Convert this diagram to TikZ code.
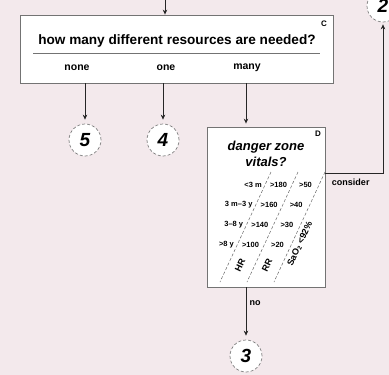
\documentclass[tikz,border=0pt]{standalone}
\usepackage{fontspec}
\setmainfont{Liberation Sans}
\usetikzlibrary{arrows.meta}
\definecolor{esipink}{RGB}{243,233,236}

\begin{document}
\begin{tikzpicture}[
    x=1pt,
    y=-1pt,
    >={Stealth[length=5pt,width=4.5pt]},
    box/.style={
        draw=black!55,
        line width=0.8pt,
        fill=white,
        inner sep=0pt
    },
    level/.style={
        circle,
        draw=black!50,
        densely dashed,
        line width=0.7pt,
        fill=white,
        minimum size=32pt,
        inner sep=0pt,
        font=\fontsize{19}{19}\selectfont\bfseries\itshape
    },
    arr/.style={
        ->,
        line width=0.7pt,
        draw=black!85
    },
    answer/.style={
        font=\fontsize{10.5}{12}\selectfont\bfseries
    },
    tab/.style={
        font=\fontsize{7.5}{8}\selectfont\bfseries,
        inner sep=1pt
    },
    colhead/.style={
        rotate=65,
        inner sep=1pt,
        font=\fontsize{9}{9}\selectfont\bfseries
    },
    sep/.style={
        densely dashed,
        draw=black!60,
        line width=0.5pt
    }
]

    \fill[esipink] (0,0) rectangle (389,375);
    \useasboundingbox (0,0) rectangle (389,375);

    \node[
        box,
        minimum width=313pt,
        minimum height=68pt
    ] (boxC) at (176.5,49) {};

    \node[
        font=\fontsize{13.6}{15}\selectfont\bfseries
    ] (question) at (177,41)
        {how many different resources are needed?};

    \draw[black!55, line width=0.8pt] (33,53) -- (320,53);

    \node[font=\fontsize{8}{8}\selectfont\bfseries] (labelC) at (324,24) {C};

    \node[answer] (none) at (77,68) {none};
    \node[answer] (one) at (166,68) {one};
    \node[answer] (many) at (247,68) {many};

    \node[level] (five) at (85,140) {5};
    \node[level] (four) at (163,140) {4};
    \node[level] (three) at (246,356) {3};
    \node[level] (two) at (383,6) {2};

    \coordinate (entry) at (165,0);
    \draw[arr] (entry) -- (boxC.north -| entry);

    \draw[arr, shorten >=4pt] (boxC.south -| five) -- (five);
    \draw[arr, shorten >=4pt] (boxC.south -| four) -- (four);

    \node[
        box,
        minimum width=118pt,
        minimum height=160pt
    ] (boxD) at (266,207) {};

    \draw[arr, shorten >=3pt] (boxC.south -| three) -- (boxD.north -| three);

    \node[
        font=\fontsize{13}{15.5}\selectfont\bfseries\itshape,
        align=center
    ] (vitals) at (266,154)
        {danger zone\\vitals?};

    \node[font=\fontsize{8}{8}\selectfont\bfseries] (labelD) at (318,134) {D};

    \foreach \x in {265,292,319}
        \draw[sep] ({\x+6},172) -- ({\x-45},282);

    \foreach \age/\hr/\rr [count=\i] in {
        {<3 m}/{>180}/{>50},
        {3 m--3 y}/{>160}/{>40},
        {3--8 y}/{>140}/{>30},
        {>8 y}/{>100}/{>20}} {
        \node[tab, anchor=east] (age\i) at ({263-9.32*(\i-1)},{165+20*\i}) {\age};
        \node[tab] (hr\i) at ({278.5-9.32*(\i-1)},{165+20*\i}) {\hr};
        \node[tab] (rr\i) at ({305.5-9.32*(\i-1)},{165+20*\i}) {\rr};
    }

    \node[colhead] (hr) at (240,265) {HR};
    \node[colhead] (rr) at (267,265) {RR};
    \node[colhead] (sao) at (300,244) {SaO\textsubscript{2} <92\%};

    \draw[arr, shorten >=2pt]
        (boxD.east |- 0,173)
        -| node[
            pos=0.22,
            below=2pt,
            font=\fontsize{9}{10}\selectfont\bfseries
        ] (consider) {consider}
        (two);

    \draw[arr, shorten >=4pt]
        (boxD.south -| three)
        -- node[
            pos=0.3,
            right,
            font=\fontsize{9}{10}\selectfont\bfseries
        ] (no) {no}
        (three);

\end{tikzpicture}
\end{document}
